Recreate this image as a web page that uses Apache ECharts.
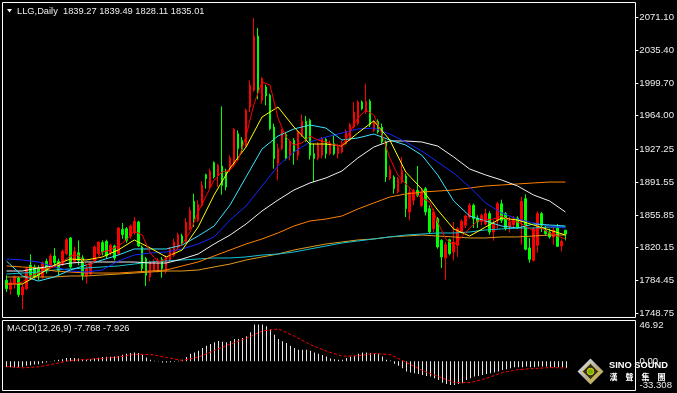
<!DOCTYPE html>
<html><head><meta charset="utf-8">
<script src="https://cdn.jsdelivr.net/npm/echarts@6/dist/echarts.min.js"></script>
<style>html,body{margin:0;padding:0;background:#000;}#c{width:677px;height:393px;}</style>
</head><body><div id="c"></div>
<script>
// ---------------- data ----------------
const symbolName = 'LLG';
const periodName = 'Daily';
const opens = [1784.7,1774.9,1781.0,1787.2,1769.0,1775.6,1801.0,1799.2,1798.1,1788.3,
1805.3,1800.3,1811.2,1805.3,1802.8,1813.7,1830.8,1805.3,1814.8,1809.0,
1789.4,1791.9,1806.4,1813.7,1825.7,1827.1,1814.8,1822.0,1813.7,1840.2,
1840.9,1832.9,1836.6,1848.2,1821.0,1808.3,1788.3,1795.5,1795.5,1807.5,
1794.5,1806.4,1811.9,1821.0,1832.9,1827.1,1840.9,1870.7,1850.0,1866.3,
1899.7,1886.3,1912.8,1899.0,1909.2,1902.6,1906.3,1909.9,1944.4,1937.1,
1931.7,1973.4,1991.6,2050.7,1980.7,1995.2,1986.1,1951.6,1911.7,1928.0,
1943.3,1920.8,1937.1,1920.8,1942.6,1957.8,1958.9,1922.6,1917.2,1920.8,
1938.2,1922.6,1933.5,1922.6,1924.4,1933.5,1938.2,1951.6,1955.3,1978.9,
1968.0,1979.6,1948.0,1957.8,1951.6,1935.3,1895.4,1897.2,1880.9,1891.7,
1898.3,1859.1,1871.8,1882.7,1866.3,1884.5,1862.7,1840.9,1851.8,1828.2,
1809.0,1828.9,1815.5,1822.8,1837.3,1844.6,1853.6,1866.3,1852.5,1848.9,
1846.4,1857.3,1837.3,1850.0,1868.1,1857.3,1842.7,1845.3,1852.5,1848.2,
1873.6,1819.9,1806.4,1822.8,1857.3,1839.1,1837.3,1831.8,1841.6,1822.0,
1839.27];
const closes = [1775.6,1782.1,1788.3,1769.0,1777.4,1797.4,1790.1,1788.3,1790.1,1803.9,
1795.5,1811.2,1803.9,1795.5,1816.2,1828.9,1799.2,1816.2,1806.4,1790.1,
1797.4,1802.8,1821.0,1826.4,1815.5,1811.2,1822.8,1809.0,1841.6,1834.4,
1828.2,1843.8,1848.9,1822.0,1797.4,1790.1,1804.6,1804.6,1806.4,1797.4,
1809.0,1818.4,1826.4,1834.4,1824.6,1848.2,1860.9,1851.8,1867.1,1888.1,
1895.4,1903.4,1897.2,1909.9,1888.1,1886.3,1917.9,1949.1,1928.0,1927.3,
1969.8,1997.0,2050.7,1991.6,2004.3,1985.4,1949.8,1917.2,1928.0,1948.0,
1917.2,1935.3,1924.4,1946.2,1957.8,1937.1,1920.8,1917.2,1933.5,1938.9,
1922.6,1933.5,1922.6,1929.9,1933.5,1946.9,1954.2,1968.0,1978.9,1971.6,
1979.6,1954.2,1957.1,1946.2,1935.3,1897.2,1905.5,1884.5,1895.4,1904.4,
1862.7,1880.9,1882.7,1877.2,1880.9,1859.1,1837.3,1859.1,1821.0,1810.1,
1823.5,1813.7,1826.4,1840.9,1848.9,1854.7,1866.3,1851.8,1848.2,1855.4,
1857.3,1837.3,1846.4,1868.1,1850.0,1840.9,1848.2,1851.1,1842.7,1870.7,
1818.4,1807.5,1840.9,1857.3,1844.6,1835.5,1831.8,1839.1,1821.7,1827.1,
1835.01];
const lows = [1772.0,1769.0,1775.6,1766.5,1753.1,1773.8,1786.5,1786.5,1784.7,1786.5,
1791.9,1797.4,1801.0,1790.1,1800.3,1811.9,1797.4,1803.9,1801.0,1784.7,
1781.0,1790.1,1803.9,1811.9,1811.9,1808.3,1811.9,1806.4,1811.9,1830.0,
1825.7,1830.0,1834.4,1821.0,1793.7,1778.5,1783.6,1793.7,1793.0,1787.6,
1791.9,1804.6,1810.1,1818.4,1822.8,1825.3,1839.1,1842.7,1848.2,1864.5,
1884.5,1884.5,1895.4,1886.3,1877.9,1882.7,1902.6,1908.1,1915.3,1924.4,
1929.9,1968.0,1989.8,1981.8,1977.0,1975.2,1948.0,1906.3,1893.6,1926.2,
1915.3,1915.3,1910.6,1915.3,1940.7,1935.3,1916.1,1891.7,1915.3,1917.2,
1917.2,1920.8,1920.8,1917.2,1922.6,1931.7,1936.0,1949.8,1953.5,1969.8,
1966.2,1951.6,1946.2,1944.4,1933.5,1891.7,1893.6,1879.0,1879.0,1889.9,
1853.6,1850.0,1866.3,1875.4,1864.5,1855.4,1835.5,1837.3,1819.1,1798.1,
1785.4,1811.9,1806.4,1810.1,1835.5,1841.6,1851.8,1841.6,1841.6,1844.6,
1844.6,1834.4,1827.9,1840.9,1847.1,1839.1,1836.6,1840.9,1840.9,1823.5,
1817.3,1803.9,1805.3,1814.8,1837.3,1832.9,1830.0,1823.5,1821.0,1816.2,
1828.11];
const highs = [1790.1,1786.5,1790.1,1788.3,1781.0,1799.2,1813.0,1801.7,1801.0,1805.3,
1808.3,1813.7,1819.9,1808.3,1818.4,1830.8,1831.8,1821.0,1828.2,1811.9,
1800.3,1804.6,1822.8,1827.1,1828.2,1828.9,1824.6,1823.5,1842.7,1847.1,
1842.7,1845.3,1853.6,1849.6,1822.8,1810.1,1806.4,1807.5,1809.0,1810.1,
1811.9,1821.0,1830.0,1836.6,1835.5,1852.5,1864.5,1879.0,1871.8,1892.5,
1900.8,1906.3,1914.3,1911.7,1974.1,1906.3,1920.8,1950.5,1948.0,1940.7,
1971.6,2002.5,2070.3,2059.4,2006.1,1997.7,1987.9,1955.3,1933.5,1949.8,
1945.5,1937.1,1939.7,1948.0,1965.1,1963.6,1960.7,1933.5,1935.3,1940.7,
1939.7,1937.1,1942.6,1933.5,1937.1,1949.1,1956.0,1978.9,1980.7,1980.7,
1998.8,1981.8,1958.9,1960.0,1955.3,1937.1,1909.9,1899.0,1897.2,1919.0,
1900.8,1886.3,1884.5,1909.2,1885.2,1886.3,1866.3,1862.7,1853.6,1829.3,
1826.4,1830.0,1848.2,1842.7,1851.1,1856.2,1868.9,1868.1,1855.4,1857.3,
1862.7,1859.8,1850.0,1870.0,1872.5,1859.1,1853.6,1854.7,1854.4,1875.4,
1878.3,1830.8,1842.7,1859.8,1859.1,1844.6,1840.9,1842.7,1846.0,1829.3,
1839.49];

// moving averages (ma5 every 2 bars, the others every 4 bars)
const maFastStep = 2;
const maSlowStep = 4;
const ma5 = [1780.7,1780.7,1782.8,1789.4,1792.6,1798.1,1799.2,1804.6,1811.2,1812.2,
1801.4,1804.6,1815.5,1817.7,1822.0,1828.6,1838.4,1834.0,1814.4,1804.6,
1807.9,1815.5,1824.2,1837.3,1859.1,1876.5,1893.9,1902.6,1904.8,1915.7,
1941.8,1976.7,2000.6,1997.4,1961.4,1940.7,1932.0,1934.2,1941.8,1937.5,
1935.3,1932.0,1930.9,1946.2,1961.4,1970.1,1964.7,1944.0,1917.9,1899.4,
1889.6,1880.8,1874.3,1870.0,1848.2,1829.7,1823.1,1831.9,1841.6,1849.3,
1850.4,1851.4,1854.7,1849.3,1848.2,1843.8,1838.4,1841.6,1836.2,1832.9,1829.7];
const ma10 = [1780.7,1780.7,1790.5,1801.4,1807.9,1806.8,1810.1,1817.7,1828.6,1819.9,
1810.1,1817.7,1842.7,1877.6,1907.0,1929.8,1962.5,1973.4,1951.6,1933.1,
1933.1,1930.9,1945.1,1958.2,1937.5,1902.6,1884.1,1861.2,1840.6,1832.9,
1842.7,1852.5,1850.4,1844.9,1839.5,1834.0];
const ma20 = [1805.7,1789.4,1783.9,1788.3,1795.9,1801.4,1806.8,1812.2,1818.8,1818.8,
1818.8,1823.1,1832.9,1843.8,1866.7,1897.2,1927.7,1941.8,1949.5,1953.8,
1950.5,1937.5,1939.7,1944.0,1937.5,1932.0,1921.1,1899.4,1871.1,1854.7,
1849.3,1843.8,1841.6,1846.0,1844.9,1843.8];
const ma30 = [1807.9,1806.8,1804.6,1799.2,1794.8,1793.7,1795.9,1805.7,1812.2,1814.4,
1815.5,1818.8,1824.2,1831.9,1850.4,1865.6,1887.4,1909.2,1924.4,1935.3,
1940.7,1945.1,1949.5,1950.5,1944.0,1935.3,1925.5,1913.5,1901.5,1886.3,
1868.9,1858.0,1851.4,1847.1,1843.8,1841.6];
const ma60 = [1794.8,1794.8,1798.1,1800.3,1803.5,1804.6,1804.6,1804.6,1804.6,1803.5,
1803.5,1807.9,1813.3,1824.2,1834.0,1846.0,1860.2,1872.1,1883.0,1890.7,
1896.1,1903.7,1917.9,1929.8,1936.4,1936.4,1935.3,1930.9,1919.0,1905.9,
1899.4,1893.9,1887.4,1877.6,1871.1,1859.1];
const ma120 = [1800.3,1799.2,1798.1,1794.8,1793.7,1792.6,1792.6,1792.6,1793.7,1794.8,
1795.9,1800.3,1804.6,1811.2,1817.7,1824.2,1829.7,1836.2,1843.8,1849.3,
1851.4,1854.7,1862.3,1868.9,1875.4,1878.7,1880.8,1881.9,1883.0,1885.2,
1887.4,1888.5,1889.6,1890.7,1891.7,1891.7];
const ma200 = [1791.5,1792.6,1793.7,1795.9,1797.0,1798.1,1799.2,1800.3,1802.4,1804.6,
1805.7,1806.8,1807.9,1809.0,1809.0,1810.1,1812.2,1813.3,1815.5,1818.8,
1822.0,1825.3,1827.5,1829.7,1831.9,1834.0,1835.1,1836.2,1836.2,1837.3,
1839.5,1840.6,1841.6,1841.6,1842.7,1842.7];
const ma250 = [1788.3,1788.3,1788.3,1788.3,1789.4,1789.4,1790.5,1791.5,1792.6,1793.7,
1794.8,1794.8,1795.9,1799.2,1802.4,1806.8,1810.1,1813.3,1817.7,1821.0,
1824.2,1826.4,1828.6,1829.7,1831.9,1832.9,1834.0,1832.9,1831.9,1830.8,
1830.8,1831.9,1831.9,1832.9,1834.0,1834.0];

// MACD(12,26,9): main histogram per bar, signal every 4 bars
const macdMain = [-7.0,-7.0,-7.4,-7.0,-6.6,-5.4,-4.7,-3.9,-3.5,-2.3,
-1.2,-0.4,0.8,1.6,2.3,3.5,3.5,3.5,3.1,2.3,
1.6,2.3,3.1,3.9,4.7,5.1,5.1,5.5,5.8,7.4,
8.5,9.3,10.1,9.3,7.4,4.3,1.6,0.4,-0.4,-1.6,
-1.6,-1.2,-0.8,0.4,1.6,4.7,8.5,10.1,12.0,15.1,
17.9,19.8,21.7,23.3,22.5,21.7,23.3,25.6,25.6,26.7,
28.7,33.4,42.3,42.3,42.3,40.4,36.4,30.6,25.6,22.9,
20.9,17.9,15.1,13.2,13.2,13.2,12.0,10.1,8.5,7.0,
5.5,3.1,2.3,1.6,1.6,3.5,5.5,6.2,8.5,10.1,
10.1,9.3,8.5,8.5,5.5,1.6,0.8,-3.1,-5.4,-8.2,
-12.0,-13.2,-14.0,-14.7,-15.9,-17.1,-17.8,-19.8,-21.7,-24.8,
-26.4,-27.5,-27.5,-26.4,-25.6,-21.7,-19.8,-17.8,-17.1,-15.9,
-14.7,-14.0,-13.2,-12.0,-10.1,-9.3,-8.2,-7.0,-7.0,-7.0,
-6.2,-7.0,-7.0,-6.2,-6.2,-6.2,-7.0,-7.0,-7.0,-7.0,
-7.768];
const macdSignalStep = 4;
const macdSignal = [-6.2,-7.7,-6.6,-3.1,0.8,2.0,3.1,4.7,7.8,7.8,
4.3,0.8,4.7,12.4,19.8,26.4,34.9,37.2,28.7,19.0,
11.5,5.8,6.2,8.9,7.4,-1.6,-10.9,-17.8,-24.8,-24.8,
-19.8,-13.2,-9.7,-8.5,-7.4,-7.926];

// axis tick labels
const priceTicks = [2071.10,2035.40,1999.70,1964.00,1927.25,1891.55,1855.85,1820.15,1784.45,1748.75];
const macdTickValues = [46.92, 0, -33.308];
const macdTickLabels = ['46.92', '0.00', '-33.308'];
const logoName = 'SINO SOUND';
const logoChars = ['漢','聲','集','團'];

// ---------------- chart ----------------
const N = opens.length;
const SLOTS = 158;
const slots = Array.from({length: SLOTS}, (_, i) => String(i));
const candles = opens.map((o, i) => [o, closes[i], lows[i], highs[i]]);
const pairs = (arr, step) => arr.map((v, i) => [i * step, v]);

const FONT = '"Liberation Sans",Arial,sans-serif';
const TXT = '#ececec';

const maDefs = [
  {name: 'MA250', data: ma250, step: maSlowStep, color: '#e09a1a'},
  {name: 'MA200', data: ma200, step: maSlowStep, color: '#14c4d6'},
  {name: 'MA120', data: ma120, step: maSlowStep, color: '#ff8000'},
  {name: 'MA60', data: ma60, step: maSlowStep, color: '#f2f2f2'},
  {name: 'MA30', data: ma30, step: maSlowStep, color: '#1428ff'},
  {name: 'MA20', data: ma20, step: maSlowStep, color: '#38e4ff'},
  {name: 'MA10', data: ma10, step: maSlowStep, color: '#ffff00'},
  {name: 'MA5', data: ma5, step: maFastStep, color: '#ff0000'}
];

const chart = echarts.init(document.getElementById('c'), null, {renderer: 'canvas'});

const macdAxis = (vals, va) => ({
  type: 'value', gridIndex: 1, position: 'right', offset: 0,
  min: -33.308, max: 46.92, scale: true,
  axisLine: {show: false}, splitLine: {show: false}, axisTick: {show: false},
  axisLabel: {
    customValues: vals, margin: 3, color: TXT, fontSize: 9.6, fontFamily: FONT,
    verticalAlign: va,
    formatter: (v) => { const i = macdTickValues.indexOf(v); return i >= 0 ? macdTickLabels[i] : ''; }
  }
});

const option = {
  backgroundColor: '#000000',
  animation: false,
  grid: [
    {left: 4.5, top: 2, width: 632, height: 315.5},
    {left: 4.5, top: 320.5, width: 632, height: 69.5}
  ],
  xAxis: [
    {type: 'category', gridIndex: 0, data: slots, boundaryGap: true, show: false},
    {type: 'category', gridIndex: 1, data: slots, boundaryGap: true, show: false}
  ],
  yAxis: [
    {
      type: 'value', gridIndex: 0, position: 'right', offset: 0,
      min: 1744.176, max: 2087.762, scale: true,
      axisLine: {show: false}, splitLine: {show: false},
      axisTick: {show: true, customValues: priceTicks, length: 3, inside: false, lineStyle: {color: '#ffffff', width: 1}},
      axisLabel: {customValues: priceTicks, margin: 4, color: TXT, fontSize: 9.6, fontFamily: FONT,
        formatter: (v) => v.toFixed(2)}
    },
    macdAxis([macdTickValues[1]], 'middle'),
    macdAxis([macdTickValues[0]], 'top'),
    macdAxis([macdTickValues[2]], 'bottom')
  ],
  series: [
    {
      type: 'candlestick', name: symbolName, xAxisIndex: 0, yAxisIndex: 0,
      data: candles, barWidth: 2, z: 1,
      itemStyle: {color: '#ff0000', color0: '#00ff00', borderColor: '#ff0000', borderColor0: '#00ff00', borderWidth: 1},
      markLine: {
        silent: true, symbol: 'none', animation: false,
        lineStyle: {opacity: 0},
        data: [{yAxis: closes[N - 1]}],
        label: {position: 'end', distance: 1, formatter: () => closes[N - 1].toFixed(2),
          backgroundColor: '#ffffff', color: '#000000', padding: [2, 3, 1, 3],
          fontSize: 9.6, fontFamily: FONT}
      }
    },
    ...maDefs.map(d => ({
      type: 'line', name: d.name, xAxisIndex: 0, yAxisIndex: 0, z: 3,
      data: pairs(d.data, d.step), symbol: 'none', showSymbol: false,
      lineStyle: {color: d.color, width: 1}, silent: true
    })),
    {
      type: 'bar', name: 'MACD', xAxisIndex: 1, yAxisIndex: 1,
      data: macdMain, barWidth: 1, itemStyle: {color: '#e6e6e6'}, silent: true
    },
    {
      type: 'line', name: 'Signal', xAxisIndex: 1, yAxisIndex: 1, z: 4,
      data: pairs(macdSignal, macdSignalStep), symbol: 'none',
      lineStyle: {color: '#ff0000', width: 1, type: [3, 2]}, silent: true
    }
  ],
  graphic: [
    {type: 'rect', z: 50, silent: true, shape: {x: 2.5, y: 2.5, width: 633, height: 315}, style: {fill: 'none', stroke: '#ffffff', lineWidth: 1}},
    {type: 'rect', z: 50, silent: true, shape: {x: 2.5, y: 320.5, width: 633, height: 70}, style: {fill: 'none', stroke: '#ffffff', lineWidth: 1}},
    {type: 'polygon', z: 50, silent: true, shape: {points: [[7, 9], [12, 9], [9.5, 12.5]]}, style: {fill: '#ffffff'}},
    {type: 'text', z: 50, silent: true, style: {x: 17, y: 11, text: symbolName + ',' + periodName + '  ' +
      [opens[N-1], highs[N-1], lows[N-1], closes[N-1]].map(v => v.toFixed(2)).join(' '),
      fill: TXT, font: '9.3px ' + FONT, textVerticalAlign: 'middle'}},
    {type: 'text', z: 50, silent: true, style: {x: 7, y: 328, text: 'MACD(12,26,9) ' + macdMain[N-1].toFixed(3) + ' ' + macdSignal[macdSignal.length-1].toFixed(3),
      fill: TXT, font: '9.3px ' + FONT, textVerticalAlign: 'middle'}},
    // logo
    {type: 'polygon', z: 60, silent: true, shape: {points: [[590.5, 358.5], [603.5, 371.5], [590.5, 384.5], [577.5, 371.5]]},
      style: {fill: new echarts.graphic.LinearGradient(0, 0, 1, 1, [{offset: 0, color: '#f0f0f0'}, {offset: 0.5, color: '#b0b0b0'}, {offset: 1, color: '#d4b000'}])}},
    {type: 'polygon', z: 61, silent: true, shape: {points: [[590.5, 363.5], [598.5, 371.5], [590.5, 379.5], [582.5, 371.5]]},
      style: {fill: '#303030', stroke: '#c8a800', lineWidth: 1}},
    {type: 'circle', z: 62, silent: true, shape: {cx: 590.5, cy: 371.5, r: 3.2}, style: {fill: '#78b000', stroke: '#e8d800', lineWidth: 1}},
    {type: 'text', z: 62, silent: true, style: {x: 609, y: 365.5, text: logoName, fill: '#ffffff',
      font: 'bold 9.3px ' + FONT, textVerticalAlign: 'middle'}},
    ...logoChars.map((ch, i) => ({type: 'text', z: 62, silent: true, style: {x: 613.5 + i * 16, y: 376.5, text: ch, fill: '#ffffff',
      font: 'bold 8px "Noto Sans CJK TC"', textAlign: 'center', textVerticalAlign: 'middle'}}))
  ]
};
chart.setOption(option);
</script>
</body></html>
